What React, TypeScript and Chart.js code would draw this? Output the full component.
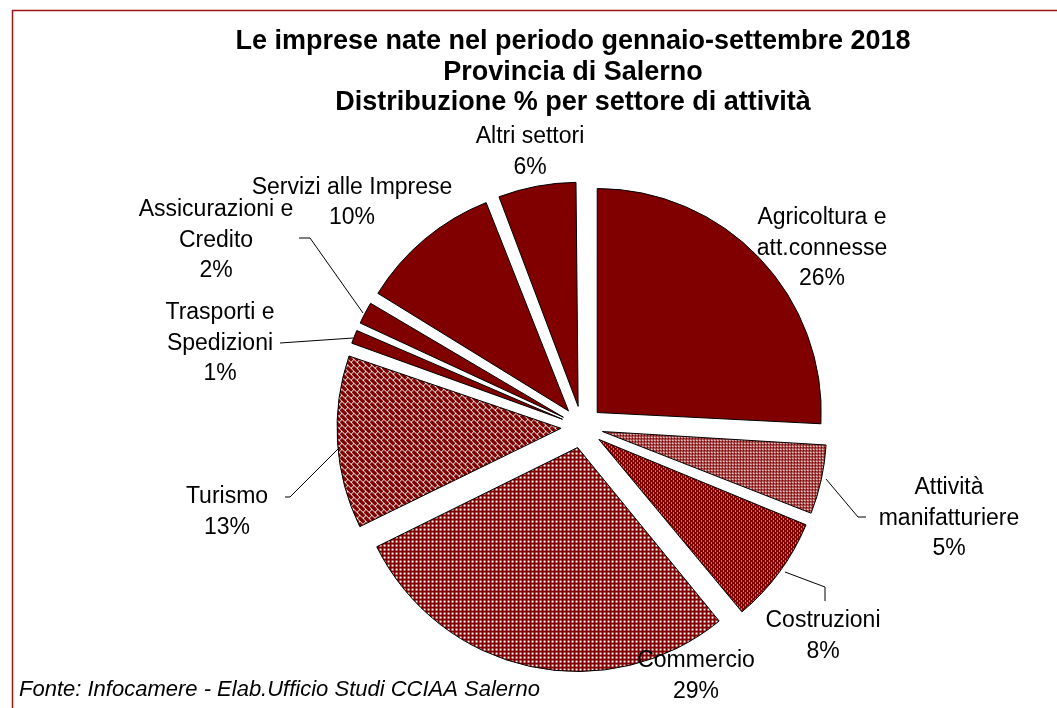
import React, { useEffect, useRef } from "react";
import { Chart, registerables } from "chart.js";

Chart.register(...registerables);

// ---------- data ----------
const categories = [
  "Agricoltura e att.connesse",
  "Attività manifatturiere",
  "Costruzioni",
  "Commercio",
  "Turismo",
  "Trasporti e Spedizioni",
  "Assicurazioni e Credito",
  "Servizi alle Imprese",
  "Altri settori",
];
const categoryLines = [
  ["Agricoltura e", "att.connesse"],
  ["Attività", "manifatturiere"],
  ["Costruzioni"],
  ["Commercio"],
  ["Turismo"],
  ["Trasporti e", "Spedizioni"],
  ["Assicurazioni e", "Credito"],
  ["Servizi alle Imprese"],
  ["Altri settori"],
];
const shares = [25.8, 5.3, 8.0, 28.6, 12.6, 1.4, 2.0, 10.4, 5.9];
const titleLines = [
  "Le imprese nate nel periodo gennaio-settembre 2018",
  "Provincia di Salerno",
  "Distribuzione % per settore di attività",
];
const sourceNote = "Fonte: Infocamere - Elab.Ufficio Studi CCIAA Salerno";

// ---------- layout / style ----------
const W = 1057;
const H = 708;
const MAROON = "#800000";
const FRAME = "#9a1418";
const PIE_RADIUS = 224;
const EXPLODE = 21;
const FONT = '"Liberation Sans", Arial, sans-serif';
const LABEL_PX = 23;
const LINE_H = 30.5;
// first-line centre of each label, relative to the pie centre
const labelOffsets: [number, number][] = [
  [240, -209],
  [367, 61],
  [241, 194],
  [114, 234],
  [-355, 70],
  [-362, -114],
  [-366, -217],
  [-230, -239.5],
  [-52, -290],
];
// leader lines, relative to the pie centre
const leaderLines: ([number, number][] | null)[] = [
  null,
  [[244, 52], [276, 90], [284, 90]],
  [[203, 145], [243, 160], [243, 174]],
  null,
  [[-297, 70], [-292, 70], [-242, 20]],
  [[-302, -84], [-229, -89]],
  [[-283, -189], [-272, -189], [-219, -114]],
  null,
  null,
];

function makePattern(
  ctx: CanvasRenderingContext2D,
  size: number,
  isWhite: (x: number, y: number) => boolean
): CanvasPattern | string {
  const c = document.createElement("canvas");
  c.width = size;
  c.height = size;
  const g = c.getContext("2d");
  if (!g) return MAROON;
  g.fillStyle = MAROON;
  g.fillRect(0, 0, size, size);
  g.fillStyle = "#ffffff";
  for (let y = 0; y < size; y++)
    for (let x = 0; x < size; x++) if (isWhite(x, y)) g.fillRect(x, y, 1, 1);
  return ctx.createPattern(c, "repeat") || MAROON;
}

const decorPlugin = {
  id: "decor",
  beforeDraw(chart: any) {
    const ctx = chart.ctx as CanvasRenderingContext2D;
    ctx.save();
    ctx.fillStyle = "#ffffff";
    ctx.fillRect(0, 0, W, H);
    ctx.strokeStyle = FRAME;
    ctx.lineWidth = 1.5;
    ctx.strokeRect(12.5, 10.5, W + 50, H + 50);
    ctx.restore();
  },
  beforeDatasetsDraw(chart: any) {
    const meta = chart.getDatasetMeta(0);
    const base = (meta.controller as any).outerRadius;
    meta.data.forEach((el: any) => {
      const c = el.endAngle - el.startAngle;
      const fix = 1 - Math.sin(Math.min(Math.PI, c));
      el.outerRadius = base - EXPLODE * fix;
    });
  },
  afterDraw(chart: any) {
    const ctx = chart.ctx as CanvasRenderingContext2D;
    const meta = chart.getDatasetMeta(0);
    const cx = meta.data[0].x;
    const cy = meta.data[0].y;
    const total = shares.reduce((a, b) => a + b, 0);
    ctx.save();
    ctx.fillStyle = "#000";
    ctx.textAlign = "center";
    ctx.textBaseline = "middle";
    // title
    ctx.font = `bold 27px ${FONT}`;
    titleLines.forEach((t, i) => ctx.fillText(t, 573, 42 + i * 30.5));
    // leader lines
    ctx.strokeStyle = "#000";
    ctx.lineWidth = 1;
    leaderLines.forEach((pts) => {
      if (!pts) return;
      ctx.beginPath();
      pts.forEach(([dx, dy], j) => {
        if (j === 0) ctx.moveTo(cx + dx, cy + dy);
        else ctx.lineTo(cx + dx, cy + dy);
      });
      ctx.stroke();
    });
    // labels
    ctx.font = `${LABEL_PX}px ${FONT}`;
    categoryLines.forEach((lines, i) => {
      const [dx, dy] = labelOffsets[i];
      const all = [...lines, Math.round((shares[i] / total) * 100) + "%"];
      all.forEach((t, j) => ctx.fillText(t, cx + dx, cy + dy + j * LINE_H));
    });
    // source
    ctx.font = `italic 22px ${FONT}`;
    ctx.textAlign = "left";
    ctx.fillText(sourceNote, 19, 690);
    ctx.restore();
  },
};

export default function App() {
  const ref = useRef<HTMLCanvasElement | null>(null);
  useEffect(() => {
    const canvas = ref.current;
    if (!canvas) return;
    const ctx = canvas.getContext("2d");
    if (!ctx) return;
    const pManif = makePattern(ctx, 3, (x, y) => (x === 0 && y === 0) || (x === 1 && y === 0) || (x === 1 && y === 1));
    const pCostr = makePattern(ctx, 4, (x, y) => (x === 0 && y === 0) || (x === 2 && y === 2));
    const pComm = makePattern(ctx, 4, (x, y) => x < 2 && y < 2);
    const pTur = makePattern(ctx, 12, (x, y) => {
      const d = (((x - y) % 12) + 12) % 12;
      const s = (x + y) % 12;
      return d % 6 === 5 || (d < 6 ? s === 0 : s === 6);
    });
    const chart = new Chart(canvas, {
      type: "pie",
      data: {
        labels: categories,
        datasets: [
          {
            data: shares,
            backgroundColor: [MAROON, pManif, pCostr, pComm, pTur, MAROON, MAROON, MAROON, MAROON] as any,
            borderColor: "#000000",
            borderWidth: 1,
            offset: EXPLODE * 4,
            hoverOffset: EXPLODE * 4,
          },
        ],
      },
      options: {
        responsive: false,
        animation: false,
        events: [],
        radius: PIE_RADIUS,
        layout: { padding: { left: 107, right: 0, top: 146, bottom: 0 } },
        plugins: {
          legend: { display: false },
          title: { display: false },
          tooltip: { enabled: false },
        },
      } as any,
      plugins: [decorPlugin],
    });
    return () => chart.destroy();
  }, []);
  return (
    <div style={{ position: "absolute", left: 0, top: 0, width: W, height: H, background: "#fff" }}>
      <canvas ref={ref} width={W} height={H} style={{ display: "block", width: W, height: H }} />
    </div>
  );
}
